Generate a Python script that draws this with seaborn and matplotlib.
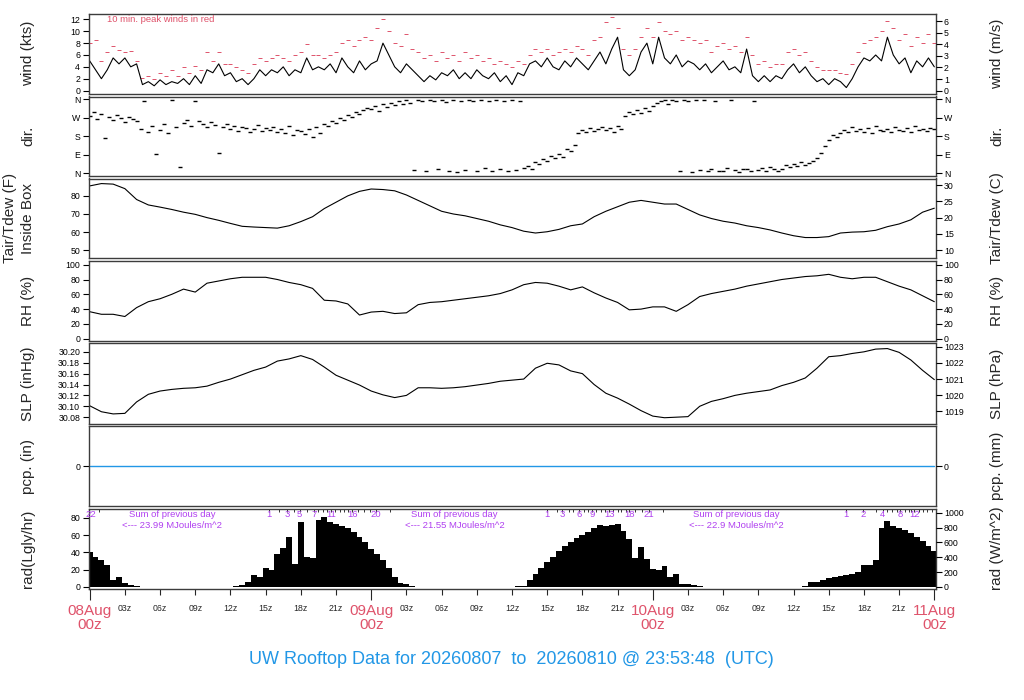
import numpy as np
import pandas as pd
import seaborn as sns
import matplotlib.pyplot as plt

##############################################################################
# UW rooftop 3-day station plot: wind, direction, T, RH, SLP, precip, radiation
# values (hours since 08Aug 00z)
##############################################################################

# 30-min wind speed (kts), 0 .. 72 h
wind_kts = [5.0, 3.5, 2.0, 3.5, 5.5, 4.5, 5.5, 4.0, 4.5, 1.0,
            1.5, 0.8, 1.8, 1.0, 1.5, 1.2, 2.0, 1.0, 2.5, 1.2,
            3.5, 3.0, 4.5, 2.5, 3.0, 1.5, 2.0, 1.0, 2.0, 3.5,
            2.5, 3.5, 3.0, 4.0, 2.5, 3.5, 3.0, 5.5, 3.5, 4.0,
            3.5, 4.5, 3.0, 5.5, 4.0, 3.0, 5.0, 3.5, 4.5, 5.0,
            8.0, 6.0, 4.0, 3.0, 4.5, 3.5, 2.5, 1.5, 2.5, 1.8,
            3.0, 2.5, 3.5, 2.0, 3.0, 2.0, 3.5, 2.5, 2.0, 3.0,
            1.5, 2.5, 1.0, 3.0, 2.5, 4.5, 5.0, 4.0, 5.5, 4.0,
            3.5, 5.0, 4.0, 5.5, 4.5, 3.5, 5.0, 6.5, 4.5, 7.0,
            9.0, 3.5, 2.5, 3.5, 6.5, 8.0, 4.5, 9.0, 5.5, 4.5,
            6.0, 4.0, 5.0, 4.5, 3.5, 4.5, 3.0, 4.0, 5.0, 3.5,
            4.0, 3.0, 7.0, 2.5, 1.5, 2.5, 1.5, 2.5, 2.0, 3.5,
            4.5, 3.0, 4.0, 2.5, 1.5, 2.0, 1.0, 2.0, 1.5, 0.5,
            2.0, 4.0, 5.5, 5.0, 6.0, 5.0, 9.0, 6.0, 4.5, 5.5,
            3.0, 5.0, 4.0, 5.5, 4.0]

# 30-min peak wind (kts)
peak_kts = [8.0, 8.5, 5.0, 6.5, 7.5, 6.8, 6.5, 6.7, 5.0, 2.2,
            2.5, 2.0, 3.0, 2.5, 3.5, 2.5, 4.0, 3.0, 4.2, 3.5,
            6.5, 5.0, 6.5, 4.5, 4.5, 4.0, 3.5, 3.0, 4.5, 5.5,
            5.0, 5.5, 6.0, 5.5, 5.0, 6.0, 6.5, 7.8, 6.0, 6.0,
            5.5, 6.0, 6.5, 8.0, 8.5, 7.5, 8.5, 9.0, 8.5, 10.5,
            12.0, 10.0, 8.0, 7.5, 9.5, 7.0, 6.5, 5.5, 6.0, 5.0,
            6.5, 5.5, 6.0, 5.0, 6.5, 5.5, 6.0, 5.0, 5.5, 4.5,
            5.0, 4.5, 4.0, 5.0, 4.5, 6.0, 7.0, 6.5, 7.0, 6.0,
            6.5, 7.0, 6.5, 7.5, 7.0, 6.0, 8.5, 9.0, 11.5, 12.4,
            10.5, 7.0, 6.0, 7.0, 9.0, 10.5, 9.0, 11.5, 10.0, 9.5,
            10.0, 8.5, 9.0, 8.5, 8.0, 8.5, 6.5, 7.5, 8.0, 7.0,
            7.5, 6.5, 9.0, 6.0, 4.5, 5.0, 4.0, 4.5, 4.5, 6.5,
            7.0, 6.0, 6.5, 5.0, 4.0, 3.5, 3.5, 3.5, 3.0, 2.8,
            4.5, 6.5, 8.0, 8.5, 9.0, 10.0, 11.8, 10.5, 8.5, 9.5,
            7.5, 9.0, 8.0, 9.5, 8.0]

# 20-min wind direction (deg)
dir_deg = [280, 300, 265, 290, 170, 275, 260, 285, 270, 250, 275, 265,
           255, 215, 350, 200, 230, 95, 210, 240, 195, 355, 225, 30,
           245, 260, 230, 350, 255, 240, 225, 250, 235, 100, 225, 240,
           215, 230, 205, 225, 220, 200, 215, 235, 205, 220, 210, 225,
           200, 215, 195, 230, 185, 210, 205, 190, 215, 175, 225, 195,
           240, 230, 255, 245, 270, 260, 285, 275, 300, 290, 310, 320,
           315, 330, 305, 340, 325, 345, 335, 350, 340, 355, 345, 15,
           355, 350, 10, 358, 352, 20, 355, 348, 12, 357, 5, 353,
           15, 355, 350, 8, 358, 25, 352, 10, 356, 18, 350, 8,
           355, 15, 350, 25, 35, 20, 55, 45, 70, 60, 85, 75,
           95, 80, 120, 110, 135, 195, 210, 200, 220, 205, 215, 225,
           210, 220, 200, 230, 215, 280, 300, 290, 310, 295, 320, 305,
           330, 345, 350, 355, 340, 358, 350, 10, 355, 352, 5, 356,
           15, 355, 8, 20, 350, 12, 10, 25, 358, 15, 5, 18,
           20, 10, 350, 15, 25, 12, 30, 18, 8, 20, 40, 30,
           45, 35, 55, 40, 50, 60, 75, 100, 130, 160, 185, 175,
           195, 210, 200, 225, 205, 215, 200, 220, 195, 230, 210, 205,
           215, 200, 225, 210, 205, 220, 200, 230, 210, 215, 205, 220,
           215]

# hourly air temperature (F)
tair_f = [85.5, 86.8, 86.5, 84.0, 78.0, 75.0, 73.8, 72.5, 71.0, 69.8,
          68.0, 66.5, 64.8, 63.2, 62.8, 62.5, 62.2, 63.5, 65.8, 68.5,
          73.0, 76.5, 80.0, 82.5, 83.8, 83.5, 82.8, 80.5, 77.5, 74.5,
          71.5, 70.0, 69.0, 67.5, 66.0, 64.0, 62.5, 60.5, 59.5, 60.2,
          61.5, 63.5, 64.5, 68.5, 71.5, 74.0, 76.5, 77.5, 76.5, 75.5,
          75.5, 72.5, 69.5, 67.5, 66.0, 65.0, 63.5, 62.5, 61.2, 59.5,
          58.0, 57.0, 57.0, 57.5, 59.5, 60.0, 60.2, 61.0, 63.0, 64.5,
          66.8, 71.0, 73.2]

# hourly relative humidity (%)
rh_pct = [36.5, 33, 33, 30, 42, 50, 54, 60, 67, 63,
          75, 78, 81, 83, 83, 83, 80, 76, 73, 68,
          52, 51, 47, 32, 36, 37, 34, 35, 46, 49,
          50, 52, 54, 56, 58, 61, 66, 73, 76, 75,
          71, 66, 70, 62, 55, 49, 39, 40, 43, 43,
          37, 46, 57, 61, 64, 67, 71, 74, 77, 80,
          82, 84, 85, 87, 83, 81, 83, 83, 77, 71,
          66, 58, 50]

# hourly sea level pressure (inHg)
slp_inhg = [30.101, 30.090, 30.086, 30.087, 30.108, 30.122, 30.128, 30.131, 30.133, 30.134,
            30.137, 30.144, 30.150, 30.158, 30.166, 30.172, 30.183, 30.187, 30.193, 30.186,
            30.172, 30.157, 30.148, 30.139, 30.128, 30.121, 30.116, 30.120, 30.134, 30.134,
            30.133, 30.134, 30.136, 30.139, 30.142, 30.146, 30.148, 30.150, 30.170, 30.179,
            30.176, 30.165, 30.160, 30.140, 30.124, 30.115, 30.104, 30.092, 30.082, 30.079,
            30.080, 30.081, 30.100, 30.109, 30.114, 30.120, 30.124, 30.127, 30.130, 30.138,
            30.144, 30.152, 30.170, 30.191, 30.193, 30.197, 30.200, 30.205, 30.206, 30.199,
            30.185, 30.166, 30.149]

# hourly precip (in) - none fell
pcp_in = [0.0] * 73

# 30-min solar radiation (Langley/hr)
rad_lgly = [40.5, 35, 31, 25, 8, 12, 4, 2, 0.8, 0,
            0, 0, 0, 0, 0, 0, 0, 0, 0, 0, 0, 0, 0, 0, 0,
            0.5, 2, 6, 14, 12, 22, 19, 38, 45, 58, 27, 75, 35, 33, 78, 81, 75,
            73, 71, 68, 64, 58, 52, 44, 38.6, 31, 22, 12, 4.6, 3, 1.5, 0.4, 0,
            0, 0, 0, 0, 0, 0, 0, 0, 0, 0, 0, 0, 0, 0, 0,
            0.5, 0.8, 7.6, 15.3, 22, 28.7, 35, 41.3, 47, 51.6, 56.6, 60.4, 63.8,
            68.8, 71.9, 70.7, 71.5, 73.4, 65, 55, 34, 46, 32.5, 21, 19, 24, 11.5,
            15, 3.8, 3.4, 1.9, 0.5, 0,
            0, 0, 0, 0, 0, 0, 0, 0, 0, 0, 0, 0, 0, 0, 0,
            0.3, 0.8, 6, 5.7, 7.6, 10.3, 11.5, 12.2, 13.4, 14.5, 17.2, 24.8,
            24.8, 30.6, 68.8, 76.4, 70.7, 68.8, 65.7, 63, 57.3, 52.7, 47.8, 42]

# daily radiation sums and cumulative MJ marks along the top of the rad panel
sum_hours = [7.0, 31.1, 55.1]
sum_values = ['23.99', '21.55', '22.9']
mj_label_hours = [0.1, 15.3, 16.8, 17.9, 19.1, 20.6, 22.4, 24.4,
                  39.0, 40.3, 41.7, 42.8, 44.3, 46.0, 47.7,
                  64.5, 65.9, 67.6, 69.1, 70.3]
mj_labels = ['22', '1', '3', '5', '7', '11', '16', '20',
             '1', '3', '6', '9', '13', '18', '21',
             '1', '2', '4', '8', '12']
mj_tick_hours = [0.8, 16.1, 17.4, 18.5, 19.5, 19.9, 20.2,
                 20.95, 21.3, 21.7, 22.0, 22.9, 23.4, 23.9, 25.6,
                 39.8, 40.9, 41.2, 42.1, 42.5, 43.2, 43.6,
                 43.9, 44.6, 45.0, 45.3, 45.7, 46.5, 47.1, 48.9,
                 67.0, 68.0, 68.4, 68.8, 69.5, 69.8, 70.0,
                 70.7, 71.0, 71.4, 71.8]

day_labels = ['08Aug\n00z', '09Aug\n00z', '10Aug\n00z', '11Aug\n00z']
hour_labels = ['03z', '06z', '09z', '12z', '15z', '18z', '21z']

RED = '#DF536B'
BLUE = '#2297E6'
PURPLE = '#B040F0'

sns.set_style('white')
plt.rcParams['font.family'] = ['Liberation Sans', 'DejaVu Sans']

W, H = 1024, 700
fig = plt.figure(figsize=(W / 100, H / 100), dpi=100)

t30 = np.arange(len(wind_kts)) * 0.5
t20 = np.arange(len(dir_deg)) / 3.0
t60 = np.arange(len(tair_f)) * 1.0
t_rad = np.arange(len(rad_lgly)) * 0.5


def panel(top, bot):
    ax = fig.add_axes([88.5 / W, 1 - bot / H, 847 / W, (bot - top) / H])
    ax.set_xlim(-0.1, 72.1)
    ax.set_xticks([])
    return ax


def style(ax, frame=True):
    for s in ax.spines.values():
        s.set_color('#3c3c3c')
        s.set_linewidth(1.0)
        s.set_visible(frame)
    ax.tick_params(axis='y', labelsize=6.3, length=4, width=0.8, pad=2,
                   direction='out', colors='black')
    ax.set_xlabel('')
    ax.set_ylabel('')


def right_axis(ax, lim, ticks, labels=None):
    r = ax.twinx()
    r.set_ylim(*lim)
    r.set_yticks(ticks)
    if labels is not None:
        r.set_yticklabels(labels)
    style(r, frame=False)
    return r


def side_labels(top, bot, left, right):
    yc = 1 - (top + bot) / 2 / H
    fig.text(28 / W, yc, left, rotation=90, ha='center', va='center', fontsize=11)
    fig.text(997 / W, yc, right, rotation=90, ha='center', va='center', fontsize=11)


KT2MS = 1 / 1.9438

# --- wind speed ---
ax = panel(13.5, 93.5)
sns.lineplot(x=t30, y=wind_kts, ax=ax, color='black', lw=0.8)
sns.scatterplot(x=t30, y=peak_kts, ax=ax, marker='_', color=RED, s=8, linewidth=0.7)
ax.set_ylim(-0.5, 13.0)
ax.set_yticks(range(0, 13, 2))
ax.text(0.022, 0.93, '10 min. peak winds in red', transform=ax.transAxes,
        color=RED, fontsize=6.8, ha='left', va='center')
style(ax)
right_axis(ax, (-0.5 * KT2MS, 13.0 * KT2MS), range(0, 7))
side_labels(13.5, 93.5, 'wind (kts)', 'wind (m/s)')

# --- direction ---
ax = panel(96.5, 176)
sns.scatterplot(x=t20, y=dir_deg, ax=ax, marker='_', color='black', s=6, linewidth=1.0)
ax.set_ylim(-14.4, 374.4)
dir_ticks = [0, 90, 180, 270, 360]
dir_names = ['N', 'E', 'S', 'W', 'N']
ax.set_yticks(dir_ticks)
ax.set_yticklabels(dir_names)
style(ax)
right_axis(ax, (-14.4, 374.4), dir_ticks, dir_names)
side_labels(96.5, 176, 'dir.', 'dir.')

# --- temperature ---
ax = panel(178.5, 258)
sns.lineplot(x=t60, y=tair_f, ax=ax, color='black', lw=0.8)
ax.set_ylim(45.7, 89.6)
ax.set_yticks([50, 60, 70, 80])
style(ax)
right_axis(ax, ((45.7 - 32) / 1.8, (89.6 - 32) / 1.8), [10, 15, 20, 25, 30])
yc = 1 - (178.5 + 258) / 2 / H
fig.text(10 / W, yc, 'Tair/Tdew (F)', rotation=90, ha='center', va='center', fontsize=11)
fig.text(28 / W, yc, 'Inside Box', rotation=90, ha='center', va='center', fontsize=11)
fig.text(997 / W, yc, 'Tair/Tdew (C)', rotation=90, ha='center', va='center', fontsize=11)

# --- relative humidity ---
ax = panel(261, 341)
sns.lineplot(x=t60, y=rh_pct, ax=ax, color='black', lw=0.8)
ax.set_ylim(-3.1, 105)
ax.set_yticks(range(0, 101, 20))
style(ax)
right_axis(ax, (-3.1, 105), range(0, 101, 20))
side_labels(261, 341, 'RH (%)', 'RH (%)')

# --- pressure ---
ax = panel(343.5, 423.5)
sns.lineplot(x=t60, y=slp_inhg, ax=ax, color='black', lw=0.8)
ax.set_ylim(30.0684, 30.2153)
slp_ticks = [30.08, 30.10, 30.12, 30.14, 30.16, 30.18, 30.20]
ax.set_yticks(slp_ticks)
ax.set_yticklabels([f'{v:.2f}' for v in slp_ticks])
style(ax)
right_axis(ax, (30.0684 * 33.8639, 30.2153 * 33.8639), [1019, 1020, 1021, 1022, 1023])
side_labels(343.5, 423.5, 'SLP (inHg)', 'SLP (hPa)')

# --- precip ---
ax = panel(426, 506)
sns.lineplot(x=t60, y=pcp_in, ax=ax, color=BLUE, lw=1.0)
ax.set_ylim(-1, 1)
ax.set_yticks([0])
style(ax)
right_axis(ax, (-25.4, 25.4), [0])
side_labels(426, 506, 'pcp. (in)', 'pcp. (mm)')

# --- radiation ---
ax = panel(508.5, 588.5)
ax.bar(t_rad, rad_lgly, width=0.5, color='black', linewidth=0)
ax.set_ylim(-1.9, 90.9)
ax.set_yticks(range(0, 81, 20))
style(ax)
right_axis(ax, (-1.9 * 11.622, 90.9 * 11.622), range(0, 1001, 200))
side_labels(508.5, 588.5, 'rad(Lgly/hr)', 'rad (W/m^2)')

# small inward marks at each whole MJ/m^2 of accumulated radiation
ax.vlines(mj_tick_hours, 0.96, 1.0, transform=ax.get_xaxis_transform(),
          color='#333333', lw=0.7)
ax.vlines(mj_label_hours[1:], 0.96, 1.0, transform=ax.get_xaxis_transform(),
          color='#333333', lw=0.7)
for h, lab in zip(mj_label_hours, mj_labels):
    ax.text(h, 0.925, lab, transform=ax.get_xaxis_transform(), color=PURPLE,
            fontsize=6.8, ha='center', va='center')
for h, v in zip(sum_hours, sum_values):
    ax.text(h, 0.925, 'Sum of previous day', transform=ax.get_xaxis_transform(),
            color=PURPLE, fontsize=6.8, ha='center', va='center')
    ax.text(h, 0.79, f'<--- {v} MJoules/m^2', transform=ax.get_xaxis_transform(),
            color=PURPLE, fontsize=6.8, ha='center', va='center')

hour_ticks = [h for h in range(3, 72, 3) if h % 24 != 0]
ax.set_xticks([0, 24, 48, 72])
ax.set_xticklabels(day_labels)
ax.set_xticks(hour_ticks, minor=True)
ax.set_xticklabels(hour_labels * 3, minor=True)
ax.tick_params(axis='x', which='major', bottom=True, length=8, width=0.8,
               labelsize=11, labelcolor=RED, pad=3)
ax.tick_params(axis='x', which='minor', bottom=True, length=4, width=0.8,
               labelsize=6.3, pad=7)
for t in ax.get_xticklabels():
    t.set_linespacing(1.05)

fig.text(511 / W, 1 - 660 / H,
         'UW Rooftop Data for 20260807  to  20260810 @ 23:53:48  (UTC)',
         color=BLUE, fontsize=13, ha='center', va='center')

fig.savefig('out.png', dpi=100)
